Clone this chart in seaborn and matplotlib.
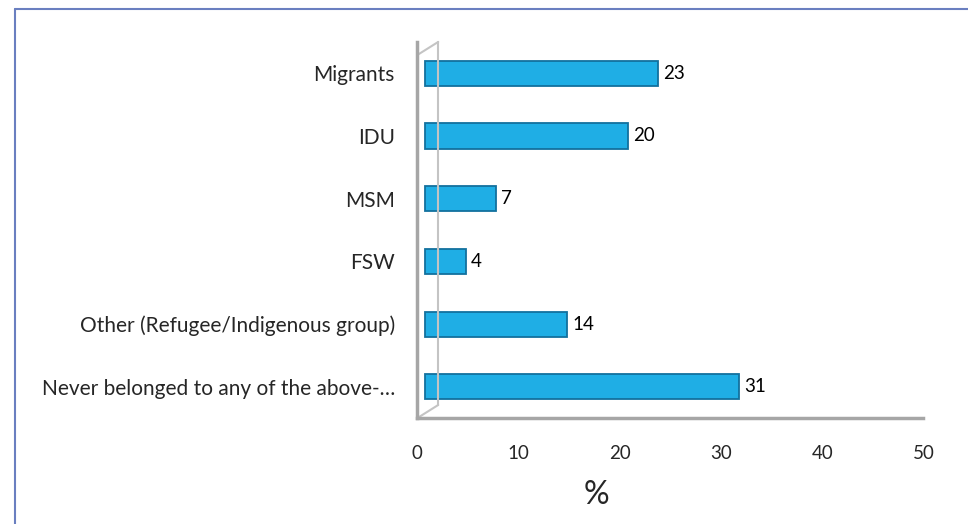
import matplotlib
matplotlib.use('Agg')
import matplotlib.pyplot as plt
import matplotlib.transforms as mtransforms
import seaborn as sns
import pandas as pd
from matplotlib.lines import Line2D

# ===================== DADOS =====================
grupos = ['Migrants', 'IDU', 'MSM', 'FSW', 'Other (Refugee/Indigenous group)',
          'Never belonged to any of the above-\u2026']
valores = [23, 20, 7, 4, 14, 31]
xticks = [0, 10, 20, 30, 40, 50]

df = pd.DataFrame({'grupo': grupos, 'pct': valores})

sns.set_style('white')
plt.rcParams['font.family'] = ['Lato', 'DejaVu Sans']

fig = plt.figure(figsize=(9.68, 5.24), dpi=100)
ax = fig.add_axes([0.431, 0.202, 0.523, 0.718])

sns.barplot(data=df, x='pct', y='grupo', orient='h', ax=ax,
            color='#1FAEE5', edgecolor='#12719E', linewidth=1.3,
            width=0.40, saturation=1)

# deslocamento de profundidade (efeito 3D do Excel)
desloc = mtransforms.ScaledTranslation(8 / 100, 0, fig.dpi_scale_trans)
for p in ax.patches:
    p.set_transform(ax.transData + desloc)

# rótulos dos valores
desloc_txt = mtransforms.ScaledTranslation(13 / 100, 0, fig.dpi_scale_trans)
for i, v in enumerate(valores):
    ax.text(v, i, str(v), va='center', ha='left', fontsize=13.5, color='black',
            transform=ax.transData + desloc_txt)

ax.set_xlim(0, 50)
ax.set_ylim(5.5, -0.5)
ax.set_xticks(xticks)
ax.set_xticklabels([str(t) for t in xticks], fontsize=13.5)
ax.tick_params(axis='x', length=5, width=1.5, color='#A6A6A6', pad=14.5, direction='out')
ax.tick_params(axis='y', which='major', length=0, pad=16, labelsize=15)
ax.set_yticks([i - 0.5 for i in range(len(grupos) + 1)], minor=True)
ax.tick_params(axis='y', which='minor', length=5, width=1.5, color='#A6A6A6', direction='out')
ax.set_xlabel('%', fontsize=23)
ax.xaxis.set_label_coords(0.354, -0.165)
ax.set_ylabel('')

for s in ['top', 'right']:
    ax.spines[s].set_visible(False)
for s in ['left', 'bottom']:
    ax.spines[s].set_color('#A6A6A6')
    ax.spines[s].set_linewidth(2.5)

# parede de fundo
ax.plot([0.0415, 0.0415], [0.035, 1.0], transform=ax.transAxes, color='#C4C4C4', lw=1.5, clip_on=False)
ax.plot([0.0, 0.0415], [0.0, 0.035], transform=ax.transAxes, color='#C4C4C4', lw=1.5, clip_on=False)
ax.plot([0.0, 0.0415], [0.965, 1.0], transform=ax.transAxes, color='#C4C4C4', lw=1.5, clip_on=False)

# moldura azul
fig.add_artist(Line2D([15/968, 1.0], [1 - 9/524, 1 - 9/524], color='#6A7FC0', lw=1.5))
fig.add_artist(Line2D([15/968, 15/968], [0, 1 - 9/524], color='#6A7FC0', lw=1.5))

fig.savefig('out.png', dpi=100)
